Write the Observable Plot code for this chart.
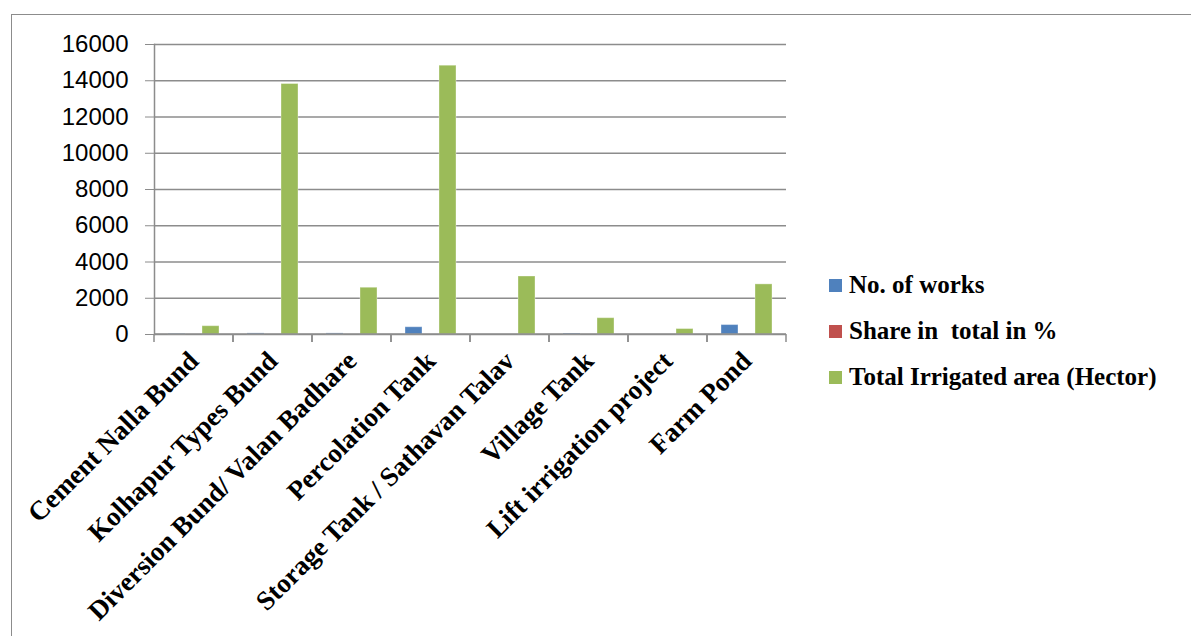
<!DOCTYPE html>
<html><head><meta charset="utf-8">
<script src="https://cdn.jsdelivr.net/npm/d3@7"></script>
<script src="https://cdn.jsdelivr.net/npm/@observablehq/plot@0.6"></script>
<style>
body{margin:0;overflow:hidden;background:#fff}
#wrap{position:relative;width:1191px;height:636px;overflow:hidden;background:#fff}
#frame{position:absolute;left:11px;top:14px;width:1400px;height:900px;border-top:1.5px solid #8c8c8c;border-left:1.5px solid #8c8c8c}
#chart{position:absolute;left:0;top:0}
#legend{position:absolute;left:829px;top:262px;font-family:"Liberation Serif","Times New Roman",serif;font-weight:bold;font-size:25px;color:#000;white-space:pre}
.item{display:flex;align-items:center;height:46px}
.sw{width:13px;height:13px;margin-right:7px;flex:none}
</style></head><body>
<div id="wrap"><div id="frame"></div><div id="chart"></div><div id="legend"></div></div>
<script>
const categories = ["Cement Nalla Bund", "Kolhapur Types Bund", "Diversion Bund/ Valan Badhare", "Percolation Tank", "Storage Tank / Sathavan Talav", "Village Tank", "Lift irrigation project", "Farm Pond"];
const noOfWorks = [30, 60, 60, 400, 0, 55, 0, 520];
const sharePercent = [0, 0, 0, 0, 0, 0, 0, 0];
const irrigatedArea = [458, 13820, 2580, 14830, 3200, 900, 300, 2765];
const seriesNames = ["No. of works", "Share in  total in %", "Total Irrigated area (Hector)"];
const seriesColors = ["#4F81BD", "#C0504D", "#9BBB59"];
const yTicks = [0, 2000, 4000, 6000, 8000, 10000, 12000, 14000, 16000];

const seriesValues = [noOfWorks, sharePercent, irrigatedArea];
const table = categories.flatMap((c, i) => seriesNames.map((s, k) => ({category: c, series: s, value: seriesValues[k][i]})));

const axisColor = "#8c8c8c";

// drawn once per facet: baseline segment and the category-boundary ticks
const facetBase = (index, scales) => {
  const [x0, x1] = scales.x.range();
  const y0 = scales.y(0);
  const g = d3.create("svg:g").attr("stroke", axisColor).attr("stroke-width", 1.5).attr("fill", "none");
  g.append("line").attr("x1", x0).attr("x2", x1).attr("y1", y0).attr("y2", y0);
  for (const e of [x0, x1]) g.append("line").attr("x1", e).attr("x2", e).attr("y1", y0).attr("y2", y0 + 8);
  return g.node();
};

const chart = Plot.plot({
  width: 1191,
  height: 636,
  marginLeft: 152,
  marginRight: 403,
  marginTop: 44,
  marginBottom: 302,
  style: {background: "transparent"},
  fx: {domain: categories, padding: 0, label: null},
  x: {domain: seriesNames, paddingInner: 0, paddingOuter: 0.745, axis: null},
  y: {domain: [0, 16000], label: null},
  color: {domain: seriesNames, range: seriesColors},
  marks: [
    Plot.gridY(yTicks, {stroke: axisColor, strokeOpacity: 1, strokeWidth: 1.5}),
    Plot.barY(table, {fx: "category", x: "series", y: "value", fill: "series", stroke: "#ffffff", strokeOpacity: 0.35, strokeWidth: 1}),
    facetBase,
    Plot.frame({anchor: "left", facetAnchor: "left", stroke: axisColor, strokeWidth: 1.5}),
    Plot.axisY(yTicks, {tickSize: 9, tickPadding: 17, stroke: axisColor, fill: "#000", fontSize: 24, fontFamily: "Liberation Sans, Arial, sans-serif", label: null, tickFormat: d => String(d)}),
    Plot.axisFx({anchor: "bottom", tickRotate: -45, tickSize: 0, tickPadding: 22, dx: 0, fill: "#000", fontSize: 27, fontWeight: "bold", fontFamily: "Liberation Serif, Times New Roman, serif", label: null})
  ]
});
document.getElementById("chart").appendChild(chart);

const legend = document.getElementById("legend");
seriesNames.forEach((s, k) => {
  const row = document.createElement("div");
  row.className = "item";
  const sw = document.createElement("span");
  sw.className = "sw";
  sw.style.background = seriesColors[k];
  const t = document.createElement("span");
  t.textContent = s;
  row.appendChild(sw); row.appendChild(t);
  legend.appendChild(row);
});
</script>
</body></html>
